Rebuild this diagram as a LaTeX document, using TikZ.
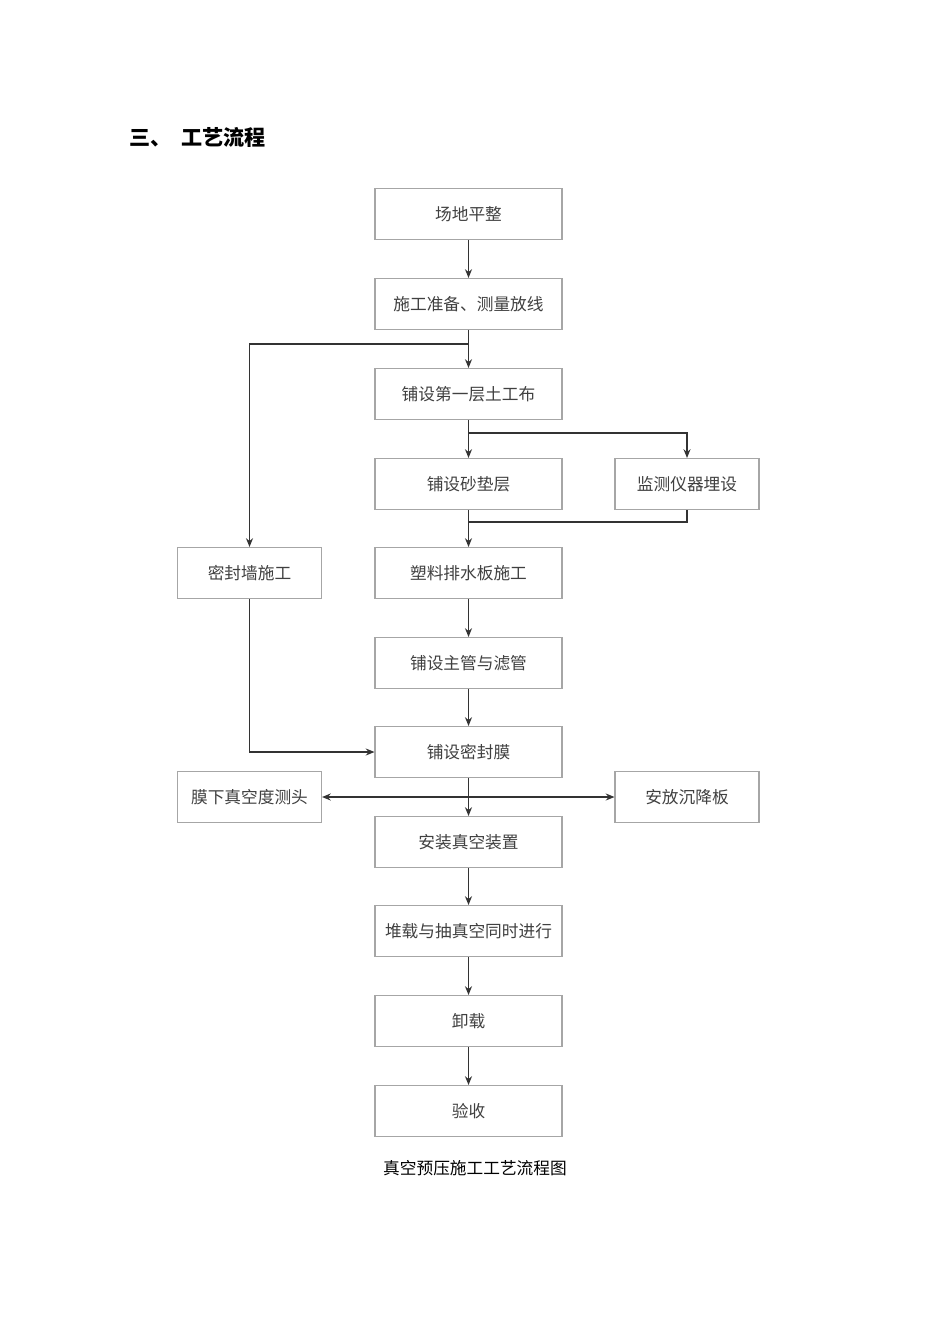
\documentclass[tikz,border=0pt]{standalone}
\usepackage{fontspec}
\newfontfamily\cjk{Noto Sans CJK SC}
\usetikzlibrary{arrows.meta}
\begin{document}
\begin{tikzpicture}[x=0.02cm,y=-0.02cm,
 box/.style={draw=gray!70,line width=0.6pt,fill=white,minimum height=1.02cm,inner sep=0pt,font=\cjk\fontsize{9.5}{11}\selectfont,text=black!75},
 mb/.style={box,minimum width=3.74cm},
 sb/.style={box,minimum width=2.88cm},
 ar/.style={-{Stealth[length=5pt,width=4pt]},line width=0.7pt,draw=black!80},
 ln/.style={line width=0.7pt,draw=black!80}]
\useasboundingbox (0,0) rectangle (950,1344);
\node[anchor=west,font=\cjk\bfseries\fontsize{12}{14}\selectfont] (title) at (123,137) {三、\ \ 工艺流程};
\node[mb] (a) at (468.5,214) {场地平整};
\node[mb] (b) at (468.5,304) {施工准备、测量放线};
\node[mb] (c) at (468.5,394) {铺设第一层土工布};
\node[mb] (d) at (468.5,484) {铺设砂垫层};
\node[sb] (m) at (687,484) {监测仪器埋设};
\node[mb] (e) at (468.5,573) {塑料排水板施工};
\node[sb] (w) at (249.5,573) {密封墙施工};
\node[mb] (f) at (468.5,663) {铺设主管与滤管};
\node[mb] (g) at (468.5,752) {铺设密封膜};
\node[sb] (p) at (249.5,797) {膜下真空度测头};
\node[sb] (s) at (687,797) {安放沉降板};
\node[mb] (h) at (468.5,842) {安装真空装置};
\node[mb] (i) at (468.5,931) {堆载与抽真空同时进行};
\node[mb] (j) at (468.5,1021) {卸载};
\node[mb] (k) at (468.5,1111) {验收};
\node[font=\cjk\fontsize{9.5}{11}\selectfont] (cap) at (475,1168) {真空预压施工工艺流程图};
\coordinate (b1) at (468.5,344);
\coordinate (c1) at (468.5,433);
\coordinate (d1) at (468.5,522);
\coordinate (g1) at (468.5,797);
\draw[ar] (a) -- (b);
\draw[ar] (b) -- (c);
\draw[ar] (b1) -| (w);
\draw[ar] (c) -- (d);
\draw[ar] (c1) -| (m);
\draw[ar] (d) -- (e);
\draw[ln] (m.south) |- (d1);
\draw[ar] (e) -- (f);
\draw[ar] (f) -- (g);
\draw[ar] (w.south) |- (g.west);
\draw[ar] (g) -- (h);
\draw[ar] (g1) -- (p);
\draw[ar] (g1) -- (s);
\draw[ar] (h) -- (i);
\draw[ar] (i) -- (j);
\draw[ar] (j) -- (k);
\end{tikzpicture}
\end{document}
